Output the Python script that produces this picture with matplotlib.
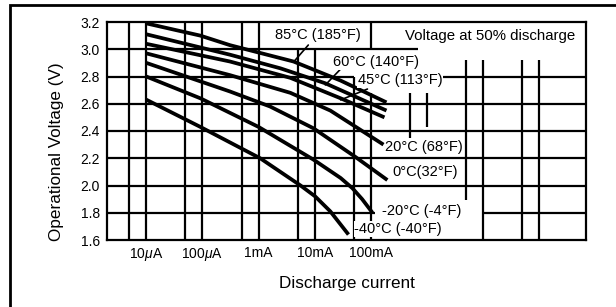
import matplotlib
matplotlib.use('Agg')
import matplotlib.pyplot as plt
from matplotlib.patches import Rectangle
from matplotlib.ticker import NullLocator

plt.rcParams['font.family'] = ['Liberation Sans', 'DejaVu Sans']
plt.rcParams['mathtext.fontset'] = 'custom'
plt.rcParams['mathtext.rm'] = 'Liberation Sans'
plt.rcParams['mathtext.it'] = 'Liberation Sans:italic'

# discharge current (A) vs operational voltage (V), one curve per temperature
curr_85 = [1e-5, 9.2e-5, 3.1e-4, 4.2e-3, 2.9e-2, 0.19]
volt_85 = [3.19, 3.10, 3.03, 2.91, 2.77, 2.61]
curr_60 = [1e-5, 3.1e-4, 2.45e-3, 1.55e-2, 0.19]
volt_60 = [3.11, 2.96, 2.86, 2.75, 2.55]
curr_45 = [1e-5, 3.1e-4, 3.7e-3, 2.9e-2, 0.175]
volt_45 = [3.04, 2.91, 2.79, 2.64, 2.50]
curr_20 = [1e-5, 3.1e-4, 3.7e-3, 1.9e-2, 0.168]
volt_20 = [2.97, 2.81, 2.68, 2.55, 2.30]
curr_0 = [1e-5, 3.1e-4, 1.6e-3, 9.5e-3, 5.3e-2, 0.197]
volt_0 = [2.90, 2.69, 2.58, 2.42, 2.21, 2.04]
curr_m20 = [1e-5, 9.2e-5, 1e-3, 9.5e-3, 2.9e-2, 4.7e-2, 7.0e-2, 0.107]
volt_m20 = [2.80, 2.64, 2.43, 2.19, 2.055, 1.98, 1.90, 1.80]
curr_m40 = [1e-5, 9.2e-5, 1.07e-3, 5.6e-3, 1.02e-2, 1.9e-2, 4.0e-2]
volt_m40 = [2.63, 2.43, 2.20, 2.00, 1.92, 1.81, 1.64]

curves = [(curr_85, volt_85), (curr_60, volt_60), (curr_45, volt_45),
          (curr_20, volt_20), (curr_0, volt_0), (curr_m20, volt_m20),
          (curr_m40, volt_m40)]

x_ticks = [1e-5, 1e-4, 1e-3, 1e-2, 1e-1]
x_ticklabels = [r'10$\mu$A', r'100$\mu$A', '1mA', '10mA', '100mA']
y_ticks = [1.6, 1.8, 2.0, 2.2, 2.4, 2.6, 2.8, 3.0, 3.2]

# grid as drawn on the sheet (some pieces hidden behind the labels)
vgrid = [(5e-6, 1.6, 3.2), (1e-5, 1.6, 3.2), (5e-5, 1.6, 3.2), (1e-4, 1.6, 3.2),
         (5e-4, 1.6, 3.2), (1e-3, 1.6, 3.2), (5e-3, 1.6, 3.0), (1e-2, 1.6, 3.0),
         (5e-2, 1.6, 2.8), (0.1, 1.6, 2.68), (0.1, 3.0, 3.2), (0.5, 2.35, 2.68),
         (1, 2.43, 2.68), (5, 1.89, 2.92), (10, 1.6, 2.92), (50, 1.6, 2.92),
         (100, 1.6, 2.92)]
hgrid = [(3.0, 2e-6, 0.68), (2.8, 2e-6, 0.05), (2.8, 1.74, 680), (2.6, 2e-6, 680),
         (2.4, 2e-6, 680), (2.2, 2e-6, 680), (2.0, 2e-6, 680),
         (1.8, 2e-6, 0.12), (1.8, 10, 680)]

# labels: text, x, y
labels = [('85°C (185°F)', 2.0e-3, 3.105),
          ('60°C (140°F)', 2.15e-2, 2.906),
          ('45°C (113°F)', 5.8e-2, 2.774),
          ('20°C (68°F)', 0.182, 2.283),
          ('0°C(32°F)', 0.243, 2.099),
          ('-20°C (-4°F)', 0.155, 1.813),
          ('-40°C (-40°F)', 0.051, 1.681)]
leaders = [((7.7e-3, 3.031), (4.2e-3, 2.906)),
           ((2.9e-2, 2.855), (1.55e-2, 2.738)),
           ((8.7e-2, 2.708), (2.9e-2, 2.628))]

fig = plt.figure(figsize=(6.16, 3.07), dpi=100)
ax = fig.add_axes([107/616, 1 - 240/307, 479/616, 218/307])
ax.set_xscale('log')
ax.set_xlim(2e-6, 680)
ax.set_ylim(1.6, 3.2)

for x, y0, y1 in vgrid:
    ax.vlines(x, y0, y1, colors='k', lw=1.6, zorder=1)
for y, x0, x1 in hgrid:
    ax.hlines(y, x0, x1, colors='k', lw=1.6, zorder=1)

for c, v in curves:
    ax.plot(c, v, color='k', lw=2.7, solid_capstyle='butt',
            solid_joinstyle='round', zorder=2)

for s, x, y in labels:
    ax.text(x, y, s, ha='left', va='center', fontsize=10.5, zorder=4,
            bbox=dict(fc='white', ec='none', pad=0.5))
for start, tip in leaders:
    ax.annotate('', xy=tip, xytext=start,
                arrowprops=dict(arrowstyle='-', lw=1.2, color='k',
                                shrinkA=0, shrinkB=0))

ax.text(0.414, 3.097, 'Voltage at 50% discharge', ha='left', va='center',
        fontsize=10.8)

ax.set_xticks(x_ticks)
ax.set_xticklabels(x_ticklabels, fontsize=10)
ax.xaxis.set_minor_locator(NullLocator())
ax.set_yticks(y_ticks)
ax.set_yticklabels([f'{v:.1f}' for v in y_ticks], fontsize=10)
ax.tick_params(length=0)
ax.tick_params(axis='x', pad=4)
ax.tick_params(axis='y', pad=5)

for sp in ax.spines.values():
    sp.set_linewidth(1.6)

ax.set_xlabel('Discharge current', fontsize=12.3)
ax.xaxis.set_label_coords(0.5, -0.165)
ax.set_ylabel('Operational Voltage (V)', fontsize=12.3)
ax.yaxis.set_label_coords(-0.09, 0.404)

fig.add_artist(Rectangle((10/616, -0.1), 1.2, 1 - 5/307 + 0.1,
                         transform=fig.transFigure, fill=False, lw=2, ec='k'))

fig.savefig('out.png', dpi=100)
